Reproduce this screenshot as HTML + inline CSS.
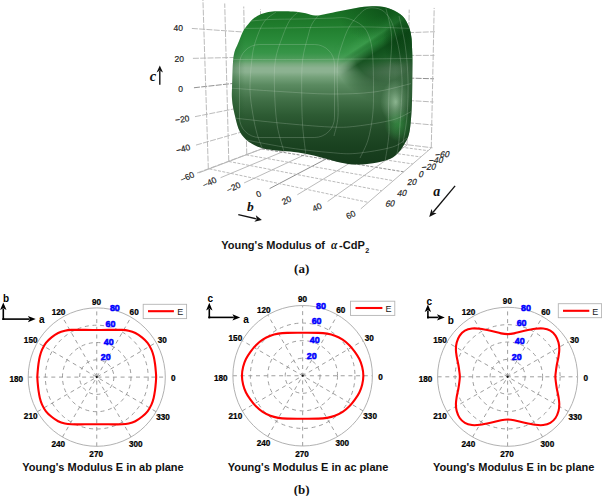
<!DOCTYPE html>
<html><head><meta charset="utf-8"><style>
html,body{margin:0;padding:0;background:#fff;width:602px;height:496px;overflow:hidden}
svg{display:block}
</style></head><body>
<svg width="602" height="496" viewBox="0 0 602 496">
<rect width="602" height="496" fill="#fff"/>
<g><line x1="300.96" y1="134.22" x2="300.46" y2="15.68" stroke="#b3b3b3" stroke-width="0.90" stroke-dasharray="6,1.3"/><line x1="196.98" y1="173.03" x2="306.27" y2="132.24" stroke="#b3b3b3" stroke-width="0.90" stroke-dasharray="6,1.3"/><line x1="306.35" y1="132.52" x2="432.54" y2="147.81" stroke="#b3b3b3" stroke-width="0.90" stroke-dasharray="6,1.3"/><line x1="306.35" y1="132.52" x2="305.93" y2="16.62" stroke="#b3b3b3" stroke-width="0.90" stroke-dasharray="6,1.3"/><line x1="300.72" y1="134.13" x2="428.15" y2="150.67" stroke="#b3b3b3" stroke-width="0.90" stroke-dasharray="3,1.4"/><line x1="198.79" y1="172.88" x2="306.24" y2="132.03" stroke="#b3b3b3" stroke-width="0.90" /><line x1="289.51" y1="138.49" x2="288.56" y2="13.76" stroke="#b3b3b3" stroke-width="0.90" stroke-dasharray="6,1.3"/><line x1="195.99" y1="145.08" x2="306.22" y2="113.49" stroke="#b3b3b3" stroke-width="0.90" stroke-dasharray="6,1.3"/><line x1="306.28" y1="113.56" x2="433.02" y2="125.01" stroke="#b3b3b3" stroke-width="0.90" stroke-dasharray="6,1.3"/><line x1="324.15" y1="134.68" x2="324.13" y2="15.39" stroke="#b3b3b3" stroke-width="0.90" stroke-dasharray="6,1.3"/><line x1="288.92" y1="138.61" x2="420.87" y2="156.95" stroke="#b3b3b3" stroke-width="0.90" stroke-dasharray="3,1.4"/><line x1="220.58" y1="177.71" x2="324.31" y2="134.30" stroke="#b3b3b3" stroke-width="0.90" /><line x1="276.81" y1="143.23" x2="275.31" y2="11.63" stroke="#b3b3b3" stroke-width="0.90" stroke-dasharray="6,1.3"/><line x1="194.99" y1="116.66" x2="306.17" y2="94.54" stroke="#b3b3b3" stroke-width="0.90" stroke-dasharray="6,1.3"/><line x1="306.21" y1="94.46" x2="433.50" y2="101.99" stroke="#b3b3b3" stroke-width="0.90" stroke-dasharray="6,1.3"/><line x1="343.02" y1="136.96" x2="343.45" y2="14.08" stroke="#b3b3b3" stroke-width="0.90" stroke-dasharray="6,1.3"/><line x1="276.02" y1="143.52" x2="412.76" y2="163.96" stroke="#b3b3b3" stroke-width="0.90" stroke-dasharray="3,1.4"/><line x1="244.11" y1="182.94" x2="343.38" y2="136.69" stroke="#b3b3b3" stroke-width="0.90" /><line x1="262.65" y1="148.52" x2="260.47" y2="9.24" stroke="#b3b3b3" stroke-width="0.90" stroke-dasharray="6,1.3"/><line x1="193.96" y1="87.75" x2="306.12" y2="75.37" stroke="#858585" stroke-width="0.90" stroke-dasharray="6,1.3"/><line x1="306.14" y1="75.22" x2="433.99" y2="78.78" stroke="#858585" stroke-width="0.90" stroke-dasharray="6,1.3"/><line x1="363.05" y1="139.39" x2="363.98" y2="12.69" stroke="#b3b3b3" stroke-width="0.90" stroke-dasharray="6,1.3"/><line x1="261.83" y1="148.91" x2="403.67" y2="171.81" stroke="#858585" stroke-width="0.90" stroke-dasharray="3,1.4"/><line x1="269.62" y1="188.60" x2="363.53" y2="139.23" stroke="#858585" stroke-width="0.90" /><line x1="246.75" y1="154.45" x2="243.74" y2="6.54" stroke="#b3b3b3" stroke-width="0.90" stroke-dasharray="6,1.3"/><line x1="192.92" y1="58.35" x2="306.07" y2="55.99" stroke="#b3b3b3" stroke-width="0.90" stroke-dasharray="6,1.3"/><line x1="306.07" y1="55.83" x2="434.48" y2="55.35" stroke="#b3b3b3" stroke-width="0.90" stroke-dasharray="6,1.3"/><line x1="384.35" y1="141.97" x2="385.86" y2="11.21" stroke="#b3b3b3" stroke-width="0.90" stroke-dasharray="6,1.3"/><line x1="246.16" y1="154.87" x2="393.40" y2="180.68" stroke="#b3b3b3" stroke-width="0.90" stroke-dasharray="3,1.4"/><line x1="297.36" y1="194.76" x2="384.87" y2="141.91" stroke="#b3b3b3" stroke-width="0.90" /><line x1="228.79" y1="161.16" x2="224.72" y2="3.48" stroke="#b3b3b3" stroke-width="0.90" stroke-dasharray="6,1.3"/><line x1="191.86" y1="28.44" x2="306.02" y2="36.39" stroke="#b3b3b3" stroke-width="0.90" stroke-dasharray="6,1.3"/><line x1="306.00" y1="36.30" x2="434.97" y2="31.71" stroke="#b3b3b3" stroke-width="0.90" stroke-dasharray="6,1.3"/><line x1="407.05" y1="144.72" x2="409.21" y2="9.63" stroke="#b3b3b3" stroke-width="0.90" stroke-dasharray="6,1.3"/><line x1="228.78" y1="161.48" x2="381.71" y2="190.78" stroke="#b3b3b3" stroke-width="0.90" stroke-dasharray="3,1.4"/><line x1="327.63" y1="201.48" x2="407.49" y2="144.75" stroke="#b3b3b3" stroke-width="0.90" /><line x1="208.32" y1="168.80" x2="202.93" y2="-0.03" stroke="#b3b3b3" stroke-width="0.90" stroke-dasharray="6,1.3"/><line x1="431.28" y1="147.66" x2="434.18" y2="7.94" stroke="#b3b3b3" stroke-width="0.90" stroke-dasharray="6,1.3"/><line x1="209.37" y1="168.86" x2="368.29" y2="202.37" stroke="#b3b3b3" stroke-width="0.90" stroke-dasharray="3,1.4"/><line x1="360.80" y1="208.84" x2="431.51" y2="147.76" stroke="#b3b3b3" stroke-width="0.90" /></g>
<defs>
<clipPath id="bc"><path d="M232.00,99.00 C231.55,93.00 232.13,86.17 232.30,80.00 C232.47,73.83 232.63,66.67 233.00,62.00 C233.37,57.33 233.65,55.12 234.50,52.00 C235.35,48.88 236.67,46.77 238.10,43.30 C239.53,39.83 241.42,34.38 243.10,31.20 C244.78,28.02 246.35,26.38 248.20,24.20 C250.05,22.02 252.02,19.78 254.20,18.10 C256.38,16.42 258.95,15.13 261.30,14.10 C263.65,13.07 265.63,12.38 268.30,11.90 C270.97,11.42 273.18,11.28 277.30,11.20 C281.42,11.12 288.27,11.07 293.00,11.40 C297.73,11.73 302.00,12.50 305.70,13.20 C309.40,13.90 312.05,15.43 315.20,15.60 C318.35,15.77 320.40,14.97 324.60,14.20 C328.80,13.43 335.13,12.05 340.40,11.00 C345.67,9.95 350.93,8.68 356.20,7.90 C361.47,7.12 366.75,6.30 372.00,6.30 C377.25,6.30 382.98,6.58 387.70,7.90 C392.42,9.22 397.13,11.85 400.30,14.20 C403.47,16.55 404.92,18.58 406.70,22.00 C408.48,25.42 410.07,29.20 411.00,34.70 C411.93,40.20 412.08,47.78 412.30,55.00 C412.52,62.22 412.35,70.33 412.30,78.00 C412.25,85.67 412.22,94.17 412.00,101.00 C411.78,107.83 411.50,113.50 411.00,119.00 C410.50,124.50 410.00,130.00 409.00,134.00 C408.00,138.00 406.67,140.00 405.00,143.00 C403.33,146.00 401.50,149.33 399.00,152.00 C396.50,154.67 394.33,157.13 390.00,159.00 C385.67,160.87 378.67,162.27 373.00,163.20 C367.33,164.13 361.50,164.73 356.00,164.60 C350.50,164.47 345.50,163.50 340.00,162.40 C334.50,161.30 328.57,159.40 323.00,158.00 C317.43,156.60 312.10,155.07 306.60,154.00 C301.10,152.93 295.10,152.18 290.00,151.60 C284.90,151.02 280.72,151.10 276.00,150.50 C271.28,149.90 266.20,149.42 261.70,148.00 C257.20,146.58 252.62,144.67 249.00,142.00 C245.38,139.33 242.33,136.33 240.00,132.00 C237.67,127.67 236.33,121.50 235.00,116.00 C233.67,110.50 232.45,105.00 232.00,99.00Z"/></clipPath>
<linearGradient id="gv" x1="0" y1="5" x2="0" y2="167" gradientUnits="userSpaceOnUse">
 <stop offset="0.000" stop-color="#166320"/>
 <stop offset="0.043" stop-color="#1a7025"/>
 <stop offset="0.123" stop-color="#1f7c2c"/>
 <stop offset="0.216" stop-color="#298a39"/>
 <stop offset="0.296" stop-color="#379548"/>
 <stop offset="0.333" stop-color="#4d9c5a"/>
 <stop offset="0.364" stop-color="#78aa7e"/>
 <stop offset="0.389" stop-color="#8cb291"/>
 <stop offset="0.414" stop-color="#8cb291"/>
 <stop offset="0.444" stop-color="#76a27b"/>
 <stop offset="0.494" stop-color="#5a8a60"/>
 <stop offset="0.586" stop-color="#406f46"/>
 <stop offset="0.679" stop-color="#2d5b33"/>
 <stop offset="0.772" stop-color="#224c28"/>
 <stop offset="0.864" stop-color="#1a4220"/>
 <stop offset="1.000" stop-color="#14381a"/>
</linearGradient>
<linearGradient id="diag" x1="368.1" y1="21.8" x2="401" y2="72.1" gradientUnits="userSpaceOnUse">
 <stop offset="0" stop-color="#40a050" stop-opacity="0"/>
 <stop offset="0.12" stop-color="#40a050" stop-opacity="0.1"/>
 <stop offset="0.27" stop-color="#45a555" stop-opacity="0.55"/>
 <stop offset="0.36" stop-color="#0b4515" stop-opacity="0.2"/>
 <stop offset="0.50" stop-color="#0b4515" stop-opacity="0.85"/>
 <stop offset="0.63" stop-color="#0b4515" stop-opacity="0.75"/>
 <stop offset="0.83" stop-color="#123f1a" stop-opacity="0.6"/>
 <stop offset="1" stop-color="#123f1a" stop-opacity="0.5"/>
</linearGradient>
<radialGradient id="diagmask" cx="385" cy="50" r="52" gradientUnits="userSpaceOnUse" gradientTransform="translate(385 50) scale(1 1.0) translate(-385 -50)">
 <stop offset="0" stop-color="#fff"/>
 <stop offset="0.6" stop-color="#fff"/>
 <stop offset="1" stop-color="#000"/>
</radialGradient>
<mask id="dm"><rect x="230" y="0" width="190" height="170" fill="url(#diagmask)"/></mask>
<radialGradient id="spot" cx="396" cy="102" r="26" gradientUnits="userSpaceOnUse" gradientTransform="translate(396 102) scale(0.6 0.85) translate(-396 -102)">
 <stop offset="0" stop-color="#9cc4a0" stop-opacity="0.85"/>
 <stop offset="0.5" stop-color="#86b08b" stop-opacity="0.45"/>
 <stop offset="1" stop-color="#86b08b" stop-opacity="0"/>
</radialGradient>
<linearGradient id="redge" x1="395" y1="0" x2="413" y2="0" gradientUnits="userSpaceOnUse">
 <stop offset="0" stop-color="#0a3c12" stop-opacity="0"/>
 <stop offset="1" stop-color="#0a3c12" stop-opacity="0.5"/>
</linearGradient>
<radialGradient id="trc" cx="385" cy="12" r="40" gradientUnits="userSpaceOnUse" gradientTransform="translate(385 12) scale(1.2 0.8) translate(-385 -12)">
 <stop offset="0" stop-color="#0a4a15" stop-opacity="0.7"/>
 <stop offset="1" stop-color="#0a4a15" stop-opacity="0"/>
</radialGradient>
<radialGradient id="gspot" cx="399" cy="124" r="16" gradientUnits="userSpaceOnUse" gradientTransform="translate(399 124) scale(0.9 1.1) translate(-399 -124)">
 <stop offset="0" stop-color="#3c9c4a" stop-opacity="0.75"/>
 <stop offset="0.6" stop-color="#3c9c4a" stop-opacity="0.35"/>
 <stop offset="1" stop-color="#3c9c4a" stop-opacity="0"/>
</radialGradient>
<radialGradient id="rdark" cx="398" cy="42" r="22" gradientUnits="userSpaceOnUse" gradientTransform="translate(398 42) scale(0.7 1.1) translate(-398 -42)">
 <stop offset="0" stop-color="#083a10" stop-opacity="0.55"/>
 <stop offset="0.6" stop-color="#083a10" stop-opacity="0.3"/>
 <stop offset="1" stop-color="#083a10" stop-opacity="0"/>
</radialGradient>
<linearGradient id="ledge" x1="231" y1="0" x2="245" y2="0" gradientUnits="userSpaceOnUse">
 <stop offset="0" stop-color="#0f4a18" stop-opacity="0.35"/>
 <stop offset="1" stop-color="#0f4a18" stop-opacity="0"/>
</linearGradient>
</defs>
<g clip-path="url(#bc)">
<rect x="230" y="5" width="185" height="162" fill="url(#gv)"/>
<rect x="230" y="0" width="190" height="170" fill="url(#diag)" mask="url(#dm)"/>
<rect x="330" y="0" width="90" height="60" fill="url(#trc)"/>
<rect x="370" y="10" width="45" height="70" fill="url(#rdark)"/>
<rect x="370" y="100" width="45" height="50" fill="url(#gspot)"/>
<rect x="370" y="70" width="45" height="65" fill="url(#spot)"/>
<rect x="390" y="0" width="25" height="170" fill="url(#redge)"/>
<rect x="230" y="0" width="16" height="170" fill="url(#ledge)"/>
<path d="M246.00,21.50 C250.00,21.17 261.00,19.92 270.00,19.50 C279.00,19.08 290.00,19.22 300.00,19.00 C310.00,18.78 322.17,18.33 330.00,18.20 C337.83,18.07 341.67,16.98 347.00,18.20 C352.33,19.42 358.33,22.48 362.00,25.50 C365.67,28.52 367.23,31.48 369.00,36.30 C370.77,41.12 371.85,45.45 372.60,54.40 C373.35,63.35 373.50,79.73 373.50,90.00 C373.50,100.27 373.52,107.67 372.60,116.00 C371.68,124.33 370.10,133.00 368.00,140.00 C365.90,147.00 361.33,155.00 360.00,158.00" stroke="#d8e2d8" stroke-opacity="0.34" stroke-width="0.65" fill="none"/><path d="M236.00,28.50 C243.33,28.42 264.33,28.22 280.00,28.00 C295.67,27.78 315.00,27.37 330.00,27.20 C345.00,27.03 356.33,26.78 370.00,27.00 C383.67,27.22 405.00,28.25 412.00,28.50" stroke="#d8e2d8" stroke-opacity="0.34" stroke-width="0.65" fill="none"/><path d="M232.00,59.50 C243.33,59.50 278.67,59.58 300.00,59.50 C321.33,59.42 341.17,59.17 360.00,59.00 C378.83,58.83 404.17,58.58 413.00,58.50" stroke="#d8e2d8" stroke-opacity="0.34" stroke-width="0.65" fill="none"/><path d="M232.00,88.20 C240.00,88.75 263.67,90.53 280.00,91.50 C296.33,92.47 314.33,93.92 330.00,94.00 C345.67,94.08 360.50,93.73 374.00,92.00 C387.50,90.27 404.83,85.00 411.00,83.60" stroke="#d8e2d8" stroke-opacity="0.34" stroke-width="0.65" fill="none"/><path d="M234.00,118.00 C241.67,118.83 264.00,121.50 280.00,123.00 C296.00,124.50 317.33,126.47 330.00,127.00 C342.67,127.53 345.58,127.38 356.00,126.20 C366.42,125.02 383.33,122.32 392.50,119.90 C401.67,117.48 407.92,113.07 411.00,111.70" stroke="#d8e2d8" stroke-opacity="0.34" stroke-width="0.65" fill="none"/><path d="M246.00,140.00 C253.33,141.33 276.00,145.92 290.00,148.00 C304.00,150.08 319.00,151.60 330.00,152.50 C341.00,153.40 345.58,154.32 356.00,153.40 C366.42,152.48 384.00,149.57 392.50,147.00 C401.00,144.43 404.58,139.50 407.00,138.00" stroke="#d8e2d8" stroke-opacity="0.34" stroke-width="0.65" fill="none"/><path d="M276.00,12.00 C274.00,13.67 267.43,17.05 264.00,22.00 C260.57,26.95 257.43,35.37 255.40,41.70 C253.37,48.03 252.70,51.95 251.80,60.00 C250.90,68.05 249.80,80.83 250.00,90.00 C250.20,99.17 251.80,107.60 253.00,115.00 C254.20,122.40 255.53,128.57 257.20,134.40 C258.87,140.23 262.03,147.40 263.00,150.00" stroke="#d8e2d8" stroke-opacity="0.34" stroke-width="0.65" fill="none"/><path d="M299.00,11.50 C297.50,12.92 292.73,15.87 290.00,20.00 C287.27,24.13 285.03,29.63 282.60,36.30 C280.17,42.97 276.75,51.05 275.40,60.00 C274.05,68.95 274.20,79.10 274.50,90.00 C274.80,100.90 275.55,114.90 277.20,125.40 C278.85,135.90 283.20,148.40 284.40,153.00" stroke="#d8e2d8" stroke-opacity="0.34" stroke-width="0.65" fill="none"/><path d="M319.00,14.80 C317.83,16.33 313.83,20.42 312.00,24.00 C310.17,27.58 309.57,30.30 308.00,36.30 C306.43,42.30 303.65,51.05 302.60,60.00 C301.55,68.95 301.70,79.10 301.70,90.00 C301.70,100.90 301.85,114.23 302.60,125.40 C303.35,136.57 305.60,151.73 306.20,157.00" stroke="#d8e2d8" stroke-opacity="0.34" stroke-width="0.65" fill="none"/><path d="M334.00,136.00 C334.67,132.67 337.47,125.33 338.00,116.00 C338.53,106.67 337.20,89.33 337.20,80.00 C337.20,70.67 337.23,65.78 338.00,60.00 C338.77,54.22 339.97,50.77 341.80,45.30 C343.63,39.83 345.97,32.48 349.00,27.20 C352.03,21.92 356.67,16.80 360.00,13.60 C363.33,10.40 365.40,8.60 369.00,8.00 C372.60,7.40 377.98,8.00 381.60,10.00 C385.22,12.00 388.30,15.62 390.70,20.00 C393.10,24.38 394.48,30.57 396.00,36.30 C397.52,42.03 398.87,48.37 399.80,54.40 C400.73,60.43 401.23,66.57 401.60,72.50 C401.97,78.43 402.27,81.25 402.00,90.00 C401.73,98.75 400.67,115.17 400.00,125.00 C399.33,134.83 399.00,143.17 398.00,149.00 C397.00,154.83 394.67,158.17 394.00,160.00" stroke="#d8e2d8" stroke-opacity="0.34" stroke-width="0.65" fill="none"/><path d="M386.00,8.50 C386.93,13.13 390.97,25.63 391.60,36.30 C392.23,46.97 390.32,60.22 389.80,72.50 C389.28,84.78 388.65,99.68 388.50,110.00 C388.35,120.32 389.48,125.73 388.90,134.40 C388.32,143.07 385.65,157.40 385.00,162.00" stroke="#d8e2d8" stroke-opacity="0.34" stroke-width="0.65" fill="none"/><path d="M399.00,16.00 C400.03,20.88 403.70,34.63 405.20,45.30 C406.70,55.97 407.70,68.22 408.00,80.00 C408.30,91.78 407.83,105.50 407.00,116.00 C406.17,126.50 403.67,138.50 403.00,143.00" stroke="#d8e2d8" stroke-opacity="0.34" stroke-width="0.65" fill="none"/><rect x="239.5" y="44.5" width="95" height="93" rx="20" stroke="#d8e2d8" stroke-opacity="0.34" stroke-width="0.65" fill="none"/>
</g>
<g font-family="Liberation Sans, sans-serif" fill="#222" stroke="#222" stroke-width="0.18"><text transform="translate(178.3 28.1) rotate(0.0) skewX(0.0)" text-anchor="middle" dominant-baseline="central" font-size="8.5">40</text><text transform="translate(179.3 58.6) rotate(0.0) skewX(0.0)" text-anchor="middle" dominant-baseline="central" font-size="8.5">20</text><text transform="translate(180.5 89.2) rotate(0.0) skewX(0.0)" text-anchor="middle" dominant-baseline="central" font-size="8.5">0</text><text transform="translate(182.2 119.1) rotate(-8.0) skewX(0.0)" text-anchor="middle" dominant-baseline="central" font-size="8.5">−20</text><text transform="translate(183.1 148.7) rotate(-15.0) skewX(0.0)" text-anchor="middle" dominant-baseline="central" font-size="8.5">−40</text><text transform="translate(187.2 177.1) rotate(-25.0) skewX(0.0)" text-anchor="middle" dominant-baseline="central" font-size="8.5">−60</text><text transform="translate(209.5 182.4) rotate(-25.0) skewX(0.0)" text-anchor="middle" dominant-baseline="central" font-size="8.5">−40</text><text transform="translate(233.6 187.4) rotate(-25.0) skewX(0.0)" text-anchor="middle" dominant-baseline="central" font-size="8.5">−20</text><text transform="translate(258.5 194.1) rotate(-25.0) skewX(0.0)" text-anchor="middle" dominant-baseline="central" font-size="8.5">0</text><text transform="translate(286.4 200.3) rotate(-25.0) skewX(0.0)" text-anchor="middle" dominant-baseline="central" font-size="8.5">20</text><text transform="translate(317.1 207.3) rotate(-25.0) skewX(0.0)" text-anchor="middle" dominant-baseline="central" font-size="8.5">40</text><text transform="translate(350.7 214.7) rotate(-25.0) skewX(0.0)" text-anchor="middle" dominant-baseline="central" font-size="8.5">60</text><text transform="translate(442.5 154.5) rotate(-3.0) skewX(-16.0)" text-anchor="middle" dominant-baseline="central" font-size="8.5">−60</text><text transform="translate(436.2 160.2) rotate(-3.0) skewX(-16.0)" text-anchor="middle" dominant-baseline="central" font-size="8.5">−40</text><text transform="translate(429.0 167.0) rotate(-3.0) skewX(-16.0)" text-anchor="middle" dominant-baseline="central" font-size="8.5">−20</text><text transform="translate(421.3 174.2) rotate(-3.0) skewX(-16.0)" text-anchor="middle" dominant-baseline="central" font-size="8.5">0</text><text transform="translate(412.2 182.1) rotate(-3.0) skewX(-16.0)" text-anchor="middle" dominant-baseline="central" font-size="8.5">20</text><text transform="translate(402.2 193.0) rotate(-3.0) skewX(-16.0)" text-anchor="middle" dominant-baseline="central" font-size="8.5">40</text><text transform="translate(390.3 203.5) rotate(-3.0) skewX(-16.0)" text-anchor="middle" dominant-baseline="central" font-size="8.5">60</text></g>
<g font-family="Liberation Serif, serif" font-style="italic" font-weight="bold" fill="#111">
<text x="152.9" y="81.4" text-anchor="middle" font-size="14.5">c</text>
<text x="250.3" y="210.7" text-anchor="middle" font-size="13.5">b</text>
<text x="436.8" y="195.7" text-anchor="middle" font-size="14">a</text>
</g>
<line x1="159.80" y1="84.80" x2="159.80" y2="70.96" stroke="#111" stroke-width="1.40"/><path d="M159.80,65.60 L163.00,72.40 L159.80,70.60 L156.60,72.40 Z" fill="#111"/>
<line x1="238.30" y1="214.70" x2="256.48" y2="218.86" stroke="#111" stroke-width="1.30"/><path d="M261.90,220.10 L254.34,221.76 L256.83,218.94 L255.81,215.32 Z" fill="#111"/>
<line x1="455.10" y1="185.80" x2="433.08" y2="212.24" stroke="#111" stroke-width="1.30"/><path d="M429.20,216.90 L431.46,209.03 L432.85,212.52 L436.54,213.25 Z" fill="#111"/>
<g font-family="Liberation Sans, sans-serif" font-weight="bold" fill="#141414">
<text x="221.2" y="248.9" font-size="11">Young's Modulus of</text>
<text x="331" y="248.9" font-family="Liberation Serif, serif" font-style="italic" font-size="11.5">α</text>
<text x="339" y="248.9" font-size="11" textLength="25.8" lengthAdjust="spacingAndGlyphs">-CdP</text>
<text x="365.2" y="252.6" font-size="7.2">2</text>
</g>
<text x="301.7" y="273" text-anchor="middle" font-family="Liberation Serif, serif" font-weight="bold" font-size="13" fill="#111">(a)</text>
<text x="301.7" y="494" text-anchor="middle" font-family="Liberation Serif, serif" font-weight="bold" font-size="13" fill="#111">(b)</text>

<g font-family="Liberation Sans, sans-serif"><ellipse cx="96.75" cy="377.10" rx="17.14" ry="17.30" fill="none" stroke="#8c8c8c" stroke-width="0.85" stroke-dasharray="4,3.7"/><ellipse cx="96.75" cy="377.10" rx="34.27" ry="34.60" fill="none" stroke="#8c8c8c" stroke-width="0.85" stroke-dasharray="4,3.7"/><ellipse cx="96.75" cy="377.10" rx="51.41" ry="51.90" fill="none" stroke="#8c8c8c" stroke-width="0.85" stroke-dasharray="4,3.7"/><line x1="28.20" y1="377.10" x2="165.30" y2="377.10" stroke="#8c8c8c" stroke-width="0.85" stroke-dasharray="4,3.7"/><line x1="37.38" y1="411.70" x2="156.12" y2="342.50" stroke="#8c8c8c" stroke-width="0.85" stroke-dasharray="4,3.7"/><line x1="62.47" y1="437.03" x2="131.03" y2="317.17" stroke="#8c8c8c" stroke-width="0.85" stroke-dasharray="4,3.7"/><line x1="96.75" y1="446.30" x2="96.75" y2="307.90" stroke="#8c8c8c" stroke-width="0.85" stroke-dasharray="4,3.7"/><line x1="131.02" y1="437.03" x2="62.48" y2="317.17" stroke="#8c8c8c" stroke-width="0.85" stroke-dasharray="4,3.7"/><line x1="156.12" y1="411.70" x2="37.38" y2="342.50" stroke="#8c8c8c" stroke-width="0.85" stroke-dasharray="4,3.7"/><ellipse cx="96.75" cy="377.10" rx="68.55" ry="69.20" fill="none" stroke="#a8a8a8" stroke-width="0.9"/><circle cx="96.75" cy="377.10" r="1.1" fill="#111"/><path d="M156.15,377.10 C156.15,375.33 156.03,373.98 155.85,371.80 C155.67,369.62 155.42,366.58 155.05,364.00 C154.68,361.42 154.25,358.70 153.65,356.30 C153.05,353.90 152.47,351.83 151.45,349.60 C150.43,347.37 149.13,344.93 147.55,342.90 C145.97,340.87 143.98,339.05 141.95,337.40 C139.92,335.75 137.57,334.12 135.35,333.00 C133.13,331.88 130.87,331.22 128.65,330.70 C126.43,330.18 125.37,330.03 122.05,329.90 C118.73,329.77 112.97,329.88 108.75,329.90 C104.53,329.92 100.75,330.00 96.75,330.00 C92.75,330.00 88.97,329.92 84.75,329.90 C80.53,329.88 74.77,329.77 71.45,329.90 C68.13,330.03 67.07,330.18 64.85,330.70 C62.63,331.22 60.37,331.88 58.15,333.00 C55.93,334.12 53.58,335.75 51.55,337.40 C49.52,339.05 47.53,340.87 45.95,342.90 C44.37,344.93 43.07,347.37 42.05,349.60 C41.03,351.83 40.45,353.90 39.85,356.30 C39.25,358.70 38.82,361.42 38.45,364.00 C38.08,366.58 37.83,369.62 37.65,371.80 C37.47,373.98 37.35,375.33 37.35,377.10 C37.35,378.87 37.47,380.22 37.65,382.40 C37.83,384.58 38.08,387.62 38.45,390.20 C38.82,392.78 39.25,395.50 39.85,397.90 C40.45,400.30 41.03,402.37 42.05,404.60 C43.07,406.83 44.37,409.27 45.95,411.30 C47.53,413.33 49.52,415.15 51.55,416.80 C53.58,418.45 55.93,420.08 58.15,421.20 C60.37,422.32 62.63,422.98 64.85,423.50 C67.07,424.02 68.13,424.17 71.45,424.30 C74.77,424.43 80.53,424.32 84.75,424.30 C88.97,424.28 92.75,424.20 96.75,424.20 C100.75,424.20 104.53,424.28 108.75,424.30 C112.97,424.32 118.73,424.43 122.05,424.30 C125.37,424.17 126.43,424.02 128.65,423.50 C130.87,422.98 133.13,422.32 135.35,421.20 C137.57,420.08 139.92,418.45 141.95,416.80 C143.98,415.15 145.97,413.33 147.55,411.30 C149.13,409.27 150.43,406.83 151.45,404.60 C152.47,402.37 153.05,400.30 153.65,397.90 C154.25,395.50 154.68,392.78 155.05,390.20 C155.42,387.62 155.67,384.58 155.85,382.40 C156.03,380.22 156.15,378.87 156.15,377.10Z" fill="none" stroke="#ff0000" stroke-width="2.1" stroke-linejoin="round"/><text transform="translate(173.35 380.95) scale(0.93 1)" text-anchor="middle" font-size="8.8" font-weight="bold" fill="#000" stroke="#000" stroke-width="0.25">0</text><text transform="translate(162.30 343.05) scale(0.93 1)" text-anchor="middle" font-size="8.8" font-weight="bold" fill="#000" stroke="#000" stroke-width="0.25">30</text><text transform="translate(134.15 315.35) scale(0.93 1)" text-anchor="middle" font-size="8.8" font-weight="bold" fill="#000" stroke="#000" stroke-width="0.25">60</text><text transform="translate(96.55 304.80) scale(0.93 1)" text-anchor="middle" font-size="8.8" font-weight="bold" fill="#000" stroke="#000" stroke-width="0.25">90</text><text transform="translate(58.55 315.35) scale(0.93 1)" text-anchor="middle" font-size="8.8" font-weight="bold" fill="#000" stroke="#000" stroke-width="0.25">120</text><text transform="translate(30.65 343.15) scale(0.93 1)" text-anchor="middle" font-size="8.8" font-weight="bold" fill="#000" stroke="#000" stroke-width="0.25">150</text><text transform="translate(16.35 381.90) scale(0.93 1)" text-anchor="middle" font-size="8.8" font-weight="bold" fill="#000" stroke="#000" stroke-width="0.25">180</text><text transform="translate(30.65 419.35) scale(0.93 1)" text-anchor="middle" font-size="8.8" font-weight="bold" fill="#000" stroke="#000" stroke-width="0.25">210</text><text transform="translate(58.35 446.75) scale(0.93 1)" text-anchor="middle" font-size="8.8" font-weight="bold" fill="#000" stroke="#000" stroke-width="0.25">240</text><text transform="translate(96.15 457.05) scale(0.93 1)" text-anchor="middle" font-size="8.8" font-weight="bold" fill="#000" stroke="#000" stroke-width="0.25">270</text><text transform="translate(135.70 446.75) scale(0.93 1)" text-anchor="middle" font-size="8.8" font-weight="bold" fill="#000" stroke="#000" stroke-width="0.25">300</text><text transform="translate(163.05 419.80) scale(0.93 1)" text-anchor="middle" font-size="8.8" font-weight="bold" fill="#000" stroke="#000" stroke-width="0.25">330</text><text x="100.80" y="360.40" font-size="8.9" font-weight="bold" fill="#0000ff" stroke="#0000ff" stroke-width="0.55">20</text><text x="103.80" y="344.50" font-size="8.9" font-weight="bold" fill="#0000ff" stroke="#0000ff" stroke-width="0.55">40</text><text x="105.60" y="326.50" font-size="8.9" font-weight="bold" fill="#0000ff" stroke="#0000ff" stroke-width="0.55">60</text><text x="109.90" y="311.40" font-size="8.9" font-weight="bold" fill="#0000ff" stroke="#0000ff" stroke-width="0.55">80</text><rect x="143.20" y="304.30" width="43.40" height="14.30" fill="#fff" stroke="#b4b4b4" stroke-width="0.9"/><line x1="148.00" y1="311.20" x2="173.90" y2="311.20" stroke="#ff0000" stroke-width="2.1"/><text x="177.30" y="315.40" font-size="9" fill="#1a1a1a">E</text><text x="103.00" y="470.70" text-anchor="middle" font-size="11" font-weight="bold" fill="#111">Young's Modulus E in ab plane</text></g>
<g font-family="Liberation Sans, sans-serif"><ellipse cx="302.65" cy="375.75" rx="17.44" ry="17.56" fill="none" stroke="#8c8c8c" stroke-width="0.85" stroke-dasharray="4,3.7"/><ellipse cx="302.65" cy="375.75" rx="34.88" ry="35.12" fill="none" stroke="#8c8c8c" stroke-width="0.85" stroke-dasharray="4,3.7"/><ellipse cx="302.65" cy="375.75" rx="52.31" ry="52.69" fill="none" stroke="#8c8c8c" stroke-width="0.85" stroke-dasharray="4,3.7"/><line x1="232.90" y1="375.75" x2="372.40" y2="375.75" stroke="#8c8c8c" stroke-width="0.85" stroke-dasharray="4,3.7"/><line x1="242.24" y1="410.88" x2="363.06" y2="340.62" stroke="#8c8c8c" stroke-width="0.85" stroke-dasharray="4,3.7"/><line x1="267.77" y1="436.59" x2="337.52" y2="314.91" stroke="#8c8c8c" stroke-width="0.85" stroke-dasharray="4,3.7"/><line x1="302.65" y1="446.00" x2="302.65" y2="305.50" stroke="#8c8c8c" stroke-width="0.85" stroke-dasharray="4,3.7"/><line x1="337.52" y1="436.59" x2="267.77" y2="314.91" stroke="#8c8c8c" stroke-width="0.85" stroke-dasharray="4,3.7"/><line x1="363.06" y1="410.88" x2="242.24" y2="340.62" stroke="#8c8c8c" stroke-width="0.85" stroke-dasharray="4,3.7"/><ellipse cx="302.65" cy="375.75" rx="69.75" ry="70.25" fill="none" stroke="#a8a8a8" stroke-width="0.9"/><circle cx="302.65" cy="375.75" r="1.1" fill="#111"/><path d="M363.35,375.75 C363.35,372.78 362.82,369.63 362.15,366.85 C361.48,364.07 360.57,361.55 359.35,359.05 C358.13,356.55 356.52,354.17 354.85,351.85 C353.18,349.53 351.38,347.20 349.35,345.15 C347.32,343.10 345.07,341.13 342.65,339.55 C340.23,337.97 337.45,336.63 334.85,335.65 C332.25,334.67 329.83,334.12 327.05,333.65 C324.27,333.18 322.22,333.00 318.15,332.85 C314.08,332.70 307.82,332.75 302.65,332.75 C297.48,332.75 291.22,332.70 287.15,332.85 C283.08,333.00 281.03,333.18 278.25,333.65 C275.47,334.12 273.05,334.67 270.45,335.65 C267.85,336.63 265.07,337.97 262.65,339.55 C260.23,341.13 257.98,343.10 255.95,345.15 C253.92,347.20 252.12,349.53 250.45,351.85 C248.78,354.17 247.17,356.55 245.95,359.05 C244.73,361.55 243.82,364.07 243.15,366.85 C242.48,369.63 241.95,372.78 241.95,375.75 C241.95,378.72 242.48,381.87 243.15,384.65 C243.82,387.43 244.73,389.95 245.95,392.45 C247.17,394.95 248.78,397.33 250.45,399.65 C252.12,401.97 253.92,404.30 255.95,406.35 C257.98,408.40 260.23,410.37 262.65,411.95 C265.07,413.53 267.85,414.87 270.45,415.85 C273.05,416.83 275.47,417.38 278.25,417.85 C281.03,418.32 283.08,418.50 287.15,418.65 C291.22,418.80 297.48,418.75 302.65,418.75 C307.82,418.75 314.08,418.80 318.15,418.65 C322.22,418.50 324.27,418.32 327.05,417.85 C329.83,417.38 332.25,416.83 334.85,415.85 C337.45,414.87 340.23,413.53 342.65,411.95 C345.07,410.37 347.32,408.40 349.35,406.35 C351.38,404.30 353.18,401.97 354.85,399.65 C356.52,397.33 358.13,394.95 359.35,392.45 C360.57,389.95 361.48,387.43 362.15,384.65 C362.82,381.87 363.35,378.72 363.35,375.75Z" fill="none" stroke="#ff0000" stroke-width="2.1" stroke-linejoin="round"/><text transform="translate(380.59 379.61) scale(0.93 1)" text-anchor="middle" font-size="8.8" font-weight="bold" fill="#000" stroke="#000" stroke-width="0.25">0</text><text transform="translate(369.35 341.14) scale(0.93 1)" text-anchor="middle" font-size="8.8" font-weight="bold" fill="#000" stroke="#000" stroke-width="0.25">30</text><text transform="translate(340.70 313.02) scale(0.93 1)" text-anchor="middle" font-size="8.8" font-weight="bold" fill="#000" stroke="#000" stroke-width="0.25">60</text><text transform="translate(302.45 302.31) scale(0.93 1)" text-anchor="middle" font-size="8.8" font-weight="bold" fill="#000" stroke="#000" stroke-width="0.25">90</text><text transform="translate(263.78 313.02) scale(0.93 1)" text-anchor="middle" font-size="8.8" font-weight="bold" fill="#000" stroke="#000" stroke-width="0.25">120</text><text transform="translate(235.39 341.24) scale(0.93 1)" text-anchor="middle" font-size="8.8" font-weight="bold" fill="#000" stroke="#000" stroke-width="0.25">150</text><text transform="translate(220.84 380.58) scale(0.93 1)" text-anchor="middle" font-size="8.8" font-weight="bold" fill="#000" stroke="#000" stroke-width="0.25">180</text><text transform="translate(235.39 418.59) scale(0.93 1)" text-anchor="middle" font-size="8.8" font-weight="bold" fill="#000" stroke="#000" stroke-width="0.25">210</text><text transform="translate(263.58 446.41) scale(0.93 1)" text-anchor="middle" font-size="8.8" font-weight="bold" fill="#000" stroke="#000" stroke-width="0.25">240</text><text transform="translate(302.04 456.87) scale(0.93 1)" text-anchor="middle" font-size="8.8" font-weight="bold" fill="#000" stroke="#000" stroke-width="0.25">270</text><text transform="translate(342.28 446.41) scale(0.93 1)" text-anchor="middle" font-size="8.8" font-weight="bold" fill="#000" stroke="#000" stroke-width="0.25">300</text><text transform="translate(370.11 419.05) scale(0.93 1)" text-anchor="middle" font-size="8.8" font-weight="bold" fill="#000" stroke="#000" stroke-width="0.25">330</text><text x="306.78" y="358.80" font-size="8.9" font-weight="bold" fill="#0000ff" stroke="#0000ff" stroke-width="0.55">20</text><text x="309.83" y="342.66" font-size="8.9" font-weight="bold" fill="#0000ff" stroke="#0000ff" stroke-width="0.55">40</text><text x="311.66" y="324.38" font-size="8.9" font-weight="bold" fill="#0000ff" stroke="#0000ff" stroke-width="0.55">60</text><text x="316.04" y="309.05" font-size="8.9" font-weight="bold" fill="#0000ff" stroke="#0000ff" stroke-width="0.55">80</text><rect x="350.50" y="301.20" width="44.30" height="14.20" fill="#fff" stroke="#b4b4b4" stroke-width="0.9"/><line x1="355.50" y1="308.00" x2="382.40" y2="308.00" stroke="#ff0000" stroke-width="2.1"/><text x="385.50" y="312.20" font-size="9" fill="#1a1a1a">E</text><text x="308.00" y="470.90" text-anchor="middle" font-size="11" font-weight="bold" fill="#111">Young's Modulus E in ac plane</text></g>
<g font-family="Liberation Sans, sans-serif"><ellipse cx="507.60" cy="376.80" rx="17.50" ry="17.38" fill="none" stroke="#8c8c8c" stroke-width="0.85" stroke-dasharray="4,3.7"/><ellipse cx="507.60" cy="376.80" rx="35.00" ry="34.75" fill="none" stroke="#8c8c8c" stroke-width="0.85" stroke-dasharray="4,3.7"/><ellipse cx="507.60" cy="376.80" rx="52.50" ry="52.12" fill="none" stroke="#8c8c8c" stroke-width="0.85" stroke-dasharray="4,3.7"/><line x1="437.60" y1="376.80" x2="577.60" y2="376.80" stroke="#8c8c8c" stroke-width="0.85" stroke-dasharray="4,3.7"/><line x1="446.98" y1="411.55" x2="568.22" y2="342.05" stroke="#8c8c8c" stroke-width="0.85" stroke-dasharray="4,3.7"/><line x1="472.60" y1="436.99" x2="542.60" y2="316.61" stroke="#8c8c8c" stroke-width="0.85" stroke-dasharray="4,3.7"/><line x1="507.60" y1="446.30" x2="507.60" y2="307.30" stroke="#8c8c8c" stroke-width="0.85" stroke-dasharray="4,3.7"/><line x1="542.60" y1="436.99" x2="472.60" y2="316.61" stroke="#8c8c8c" stroke-width="0.85" stroke-dasharray="4,3.7"/><line x1="568.22" y1="411.55" x2="446.98" y2="342.05" stroke="#8c8c8c" stroke-width="0.85" stroke-dasharray="4,3.7"/><ellipse cx="507.60" cy="376.80" rx="70.00" ry="69.50" fill="none" stroke="#a8a8a8" stroke-width="0.9"/><circle cx="507.60" cy="376.80" r="1.1" fill="#111"/><path d="M555.35,376.80 C555.35,375.20 555.57,373.92 555.80,372.00 C556.03,370.08 556.30,367.87 556.75,365.30 C557.20,362.73 558.08,359.22 558.50,356.60 C558.92,353.98 559.30,351.93 559.30,349.60 C559.30,347.27 559.13,344.93 558.50,342.60 C557.87,340.27 556.87,337.58 555.50,335.60 C554.13,333.62 552.35,331.88 550.30,330.70 C548.25,329.52 545.73,328.87 543.20,328.55 C540.67,328.23 538.20,328.43 535.10,328.80 C532.00,329.18 528.10,330.03 524.60,330.80 C521.10,331.57 516.93,332.85 514.10,333.40 C511.27,333.95 509.77,334.10 507.60,334.10 C505.43,334.10 503.93,333.95 501.10,333.40 C498.27,332.85 494.10,331.57 490.60,330.80 C487.10,330.03 483.20,329.18 480.10,328.80 C477.00,328.43 474.53,328.23 472.00,328.55 C469.47,328.87 466.95,329.52 464.90,330.70 C462.85,331.88 461.07,333.62 459.70,335.60 C458.33,337.58 457.33,340.27 456.70,342.60 C456.07,344.93 455.90,347.27 455.90,349.60 C455.90,351.93 456.28,353.98 456.70,356.60 C457.13,359.22 458.00,362.73 458.45,365.30 C458.90,367.87 459.17,370.08 459.40,372.00 C459.63,373.92 459.85,375.20 459.85,376.80 C459.85,378.40 459.63,379.68 459.40,381.60 C459.17,383.52 458.90,385.73 458.45,388.30 C458.00,390.87 457.13,394.38 456.70,397.00 C456.28,399.62 455.90,401.67 455.90,404.00 C455.90,406.33 456.07,408.67 456.70,411.00 C457.33,413.33 458.33,416.02 459.70,418.00 C461.07,419.98 462.85,421.73 464.90,422.90 C466.95,424.08 469.47,424.73 472.00,425.05 C474.53,425.37 477.00,425.18 480.10,424.80 C483.20,424.43 487.10,423.57 490.60,422.80 C494.10,422.03 498.27,420.75 501.10,420.20 C503.93,419.65 505.43,419.50 507.60,419.50 C509.77,419.50 511.27,419.65 514.10,420.20 C516.93,420.75 521.10,422.03 524.60,422.80 C528.10,423.57 532.00,424.43 535.10,424.80 C538.20,425.18 540.67,425.37 543.20,425.05 C545.73,424.73 548.25,424.08 550.30,422.90 C552.35,421.73 554.13,419.98 555.50,418.00 C556.87,416.02 557.87,413.33 558.50,411.00 C559.13,408.67 559.30,406.33 559.30,404.00 C559.30,401.67 558.92,399.62 558.50,397.00 C558.08,394.38 557.20,390.87 556.75,388.30 C556.30,385.73 556.03,383.52 555.80,381.60 C555.57,379.68 555.35,378.40 555.35,376.80Z" fill="none" stroke="#ff0000" stroke-width="2.1" stroke-linejoin="round"/><text transform="translate(585.82 380.65) scale(0.93 1)" text-anchor="middle" font-size="8.8" font-weight="bold" fill="#000" stroke="#000" stroke-width="0.25">0</text><text transform="translate(574.54 342.59) scale(0.93 1)" text-anchor="middle" font-size="8.8" font-weight="bold" fill="#000" stroke="#000" stroke-width="0.25">30</text><text transform="translate(545.79 314.77) scale(0.93 1)" text-anchor="middle" font-size="8.8" font-weight="bold" fill="#000" stroke="#000" stroke-width="0.25">60</text><text transform="translate(507.40 304.17) scale(0.93 1)" text-anchor="middle" font-size="8.8" font-weight="bold" fill="#000" stroke="#000" stroke-width="0.25">90</text><text transform="translate(468.59 314.77) scale(0.93 1)" text-anchor="middle" font-size="8.8" font-weight="bold" fill="#000" stroke="#000" stroke-width="0.25">120</text><text transform="translate(440.10 342.69) scale(0.93 1)" text-anchor="middle" font-size="8.8" font-weight="bold" fill="#000" stroke="#000" stroke-width="0.25">150</text><text transform="translate(425.50 381.61) scale(0.93 1)" text-anchor="middle" font-size="8.8" font-weight="bold" fill="#000" stroke="#000" stroke-width="0.25">180</text><text transform="translate(440.10 419.22) scale(0.93 1)" text-anchor="middle" font-size="8.8" font-weight="bold" fill="#000" stroke="#000" stroke-width="0.25">210</text><text transform="translate(468.39 446.74) scale(0.93 1)" text-anchor="middle" font-size="8.8" font-weight="bold" fill="#000" stroke="#000" stroke-width="0.25">240</text><text transform="translate(506.99 457.08) scale(0.93 1)" text-anchor="middle" font-size="8.8" font-weight="bold" fill="#000" stroke="#000" stroke-width="0.25">270</text><text transform="translate(547.37 446.74) scale(0.93 1)" text-anchor="middle" font-size="8.8" font-weight="bold" fill="#000" stroke="#000" stroke-width="0.25">300</text><text transform="translate(575.30 419.67) scale(0.93 1)" text-anchor="middle" font-size="8.8" font-weight="bold" fill="#000" stroke="#000" stroke-width="0.25">330</text><text x="511.74" y="360.03" font-size="8.9" font-weight="bold" fill="#0000ff" stroke="#0000ff" stroke-width="0.55">20</text><text x="514.81" y="344.06" font-size="8.9" font-weight="bold" fill="#0000ff" stroke="#0000ff" stroke-width="0.55">40</text><text x="516.65" y="325.98" font-size="8.9" font-weight="bold" fill="#0000ff" stroke="#0000ff" stroke-width="0.55">60</text><text x="521.04" y="310.82" font-size="8.9" font-weight="bold" fill="#0000ff" stroke="#0000ff" stroke-width="0.55">80</text><rect x="558.30" y="303.70" width="43.30" height="14.00" fill="#fff" stroke="#b4b4b4" stroke-width="0.9"/><line x1="563.00" y1="310.80" x2="589.30" y2="310.80" stroke="#ff0000" stroke-width="2.1"/><text x="592.20" y="314.70" font-size="9" fill="#1a1a1a">E</text><text x="513.70" y="470.90" text-anchor="middle" font-size="11" font-weight="bold" fill="#111">Young's Modulus E in bc plane</text></g>
<line x1="2.50" y1="319.10" x2="4.30" y2="319.10" stroke="#000" stroke-width="1.6"/><line x1="3.30" y1="319.90" x2="3.30" y2="308.66" stroke="#000" stroke-width="1.60"/><path d="M3.30,302.50 L6.50,310.10 L3.30,308.30 L0.10,310.10 Z" fill="#000"/><line x1="2.50" y1="319.10" x2="29.34" y2="319.10" stroke="#000" stroke-width="1.60"/><path d="M35.70,319.10 L27.90,322.20 L29.70,319.10 L27.90,316.00 Z" fill="#000"/><text x="3.00" y="301.60" font-family="Liberation Sans, sans-serif" font-size="10" font-weight="bold" fill="#000">b</text><text x="39.00" y="322.80" font-family="Liberation Sans, sans-serif" font-size="10" font-weight="bold" fill="#000">a</text>
<line x1="208.50" y1="317.40" x2="210.30" y2="317.40" stroke="#000" stroke-width="1.6"/><line x1="209.30" y1="318.20" x2="209.30" y2="308.96" stroke="#000" stroke-width="1.60"/><path d="M209.30,302.80 L212.50,310.40 L209.30,308.60 L206.10,310.40 Z" fill="#000"/><line x1="208.50" y1="317.40" x2="233.84" y2="317.40" stroke="#000" stroke-width="1.60"/><path d="M240.20,317.40 L232.40,320.50 L234.20,317.40 L232.40,314.30 Z" fill="#000"/><text x="207.60" y="301.90" font-family="Liberation Sans, sans-serif" font-size="10" font-weight="bold" fill="#000">c</text><text x="243.30" y="322.70" font-family="Liberation Sans, sans-serif" font-size="10" font-weight="bold" fill="#000">a</text>
<line x1="427.10" y1="317.40" x2="428.90" y2="317.40" stroke="#000" stroke-width="1.6"/><line x1="427.90" y1="318.20" x2="427.90" y2="310.66" stroke="#000" stroke-width="1.60"/><path d="M427.90,304.50 L431.10,312.10 L427.90,310.30 L424.70,312.10 Z" fill="#000"/><line x1="427.10" y1="317.40" x2="438.44" y2="317.40" stroke="#000" stroke-width="1.60"/><path d="M444.80,317.40 L437.00,320.50 L438.80,317.40 L437.00,314.30 Z" fill="#000"/><text x="426.40" y="304.80" font-family="Liberation Sans, sans-serif" font-size="10" font-weight="bold" fill="#000">c</text><text x="447.70" y="323.50" font-family="Liberation Sans, sans-serif" font-size="10" font-weight="bold" fill="#000">b</text>
</svg></body></html>
